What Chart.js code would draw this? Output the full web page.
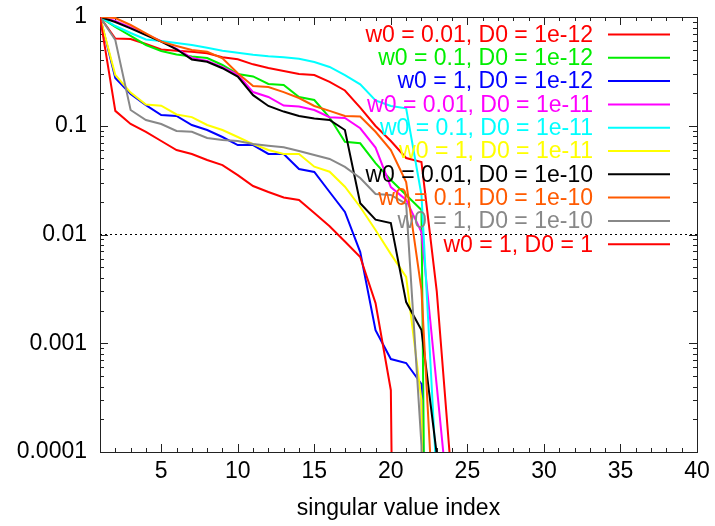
<!DOCTYPE html>
<html>
<head>
<title>Singular values</title>
<script src="https://cdn.jsdelivr.net/npm/chart.js"></script>
<style>
 body { margin: 0; background: #fff; }
 #wrap { width: 715px; height: 526px; }
</style>
</head>
<body>
<div id="wrap"><canvas id="svChart" width="715" height="526"></canvas></div>
<script>
 // singular values, index 1, 2, 3, ...  (1e-16 = numerically zero)
 const sv_w001_d12 = [1, 0.634, 0.628, 0.565, 0.503, 0.490, 0.480, 0.464, 0.426, 0.408, 0.367, 0.340, 0.319, 0.299, 0.293, 0.253, 0.211, 0.147, 0.0995, 0.0724, 0.0505, 0.0464, 0.003, 5e-5, 1e-16];
 const sv_w01_d12  = [1, 0.809, 0.669, 0.553, 0.487, 0.452, 0.433, 0.420, 0.362, 0.299, 0.284, 0.242, 0.237, 0.184, 0.1725, 0.119, 0.0713, 0.069, 0.0454, 0.0317, 0.0231, 0.0168, 1e-16];
 const sv_w1_d12   = [1, 0.275, 0.196, 0.155, 0.1256, 0.123, 0.1016, 0.0914, 0.0788, 0.0665, 0.0665, 0.055, 0.055, 0.040, 0.0376, 0.0246, 0.0161, 0.0069, 0.00132, 0.000716, 0.000658, 0.000422, 1e-16];
 const sv_w001_d11 = [1, 0.92, 0.80, 0.69, 0.60, 0.51, 0.42, 0.395, 0.345, 0.295, 0.204, 0.184, 0.1535, 0.150, 0.1396, 0.120, 0.118, 0.0948, 0.063, 0.0273, 0.0208, 0.0105, 0.000404, 1.5e-5, 1e-16];
 const sv_w01_d11  = [1, 0.826, 0.713, 0.621, 0.601, 0.577, 0.553, 0.522, 0.490, 0.470, 0.450, 0.435, 0.426, 0.414, 0.386, 0.347, 0.292, 0.240, 0.171, 0.152, 0.1446, 0.0231, 5.4e-5, 1e-16];
 const sv_w1_d11   = [1, 0.293, 0.202, 0.157, 0.153, 0.127, 0.120, 0.1016, 0.0914, 0.0788, 0.0679, 0.0598, 0.055, 0.055, 0.042, 0.0378, 0.0275, 0.0179, 0.0110, 0.0066, 0.00407, 0.0003, 1e-16];
 const sv_w001_d10 = [1, 0.90, 0.787, 0.683, 0.593, 0.505, 0.407, 0.388, 0.338, 0.283, 0.191, 0.152, 0.135, 0.123, 0.1167, 0.113, 0.0914, 0.0194, 0.0137, 0.01276, 0.00239, 0.00132, 9.5e-5, 1e-16];
 const sv_w01_d10  = [1, 0.979, 0.844, 0.708, 0.593, 0.541, 0.497, 0.480, 0.417, 0.304, 0.232, 0.227, 0.204, 0.180, 0.152, 0.137, 0.123, 0.1216, 0.0881, 0.0598, 0.0304, 0.00309, 7e-6, 1e-16];
 const sv_w1_d10   = [1, 0.614, 0.1396, 0.113, 0.1038, 0.0895, 0.0881, 0.0771, 0.074, 0.0724, 0.0679, 0.0656, 0.0634, 0.0586, 0.0538, 0.0495, 0.0418, 0.0331, 0.0236, 0.0231, 0.0191, 0.000116, 1e-16];
 const sv_w1_d1    = [1, 0.137, 0.104, 0.0877, 0.0724, 0.0598, 0.055, 0.0484, 0.0435, 0.0352, 0.0279, 0.0246, 0.0219, 0.0208, 0.0158, 0.0119, 0.00863, 0.00621, 0.00234, 0.00037, 1e-16];

 const seriesNames = ['w0 = 0.01, D0 = 1e-12', 'w0 = 0.1, D0 = 1e-12', 'w0 = 1, D0 = 1e-12',
   'w0 = 0.01, D0 = 1e-11', 'w0 = 0.1, D0 = 1e-11', 'w0 = 1, D0 = 1e-11',
   'w0 = 0.01, D0 = 1e-10', 'w0 = 0.1, D0 = 1e-10', 'w0 = 1, D0 = 1e-10', 'w0 = 1, D0 = 1'];
 const seriesValues = [sv_w001_d12, sv_w01_d12, sv_w1_d12, sv_w001_d11, sv_w01_d11, sv_w1_d11,
   sv_w001_d10, sv_w01_d10, sv_w1_d10, sv_w1_d1];
 const seriesColors = ['#ff0000', '#00ee00', '#0000ff', '#ff00ff', '#00ffff', '#ffff00',
   '#000000', '#ff5a00', '#888888', '#ff0000'];

 const xTicks = [5, 10, 15, 20, 25, 30, 35, 40];
 const yTicks = [1, 0.1, 0.01, 0.001, 0.0001];
 const yTickLabels = ['1', '0.1', '0.01', '0.001', '0.0001'];
 const refLevel = 0.01;

 Chart.defaults.font.family = '"Liberation Sans", Arial, sans-serif';
 Chart.defaults.font.size = 23;
 Chart.defaults.color = '#000';

 // gnuplot style frame with inward ticks on all four sides
 const frameTicks = {
  id: 'frameTicks',
  beforeDatasetsDraw(chart) {
   const {ctx, chartArea: a, scales: {x, y}} = chart;
   ctx.save();
   ctx.strokeStyle = '#222';
   ctx.lineWidth = 1;
   ctx.beginPath();
   for (let v = 1; v <= 40; v++) {
    const px = Math.round(x.getPixelForValue(v)) + 0.5;
    const len = v % 5 === 0 ? 8 : 4;
    ctx.moveTo(px, a.bottom); ctx.lineTo(px, a.bottom - len);
    ctx.moveTo(px, a.top); ctx.lineTo(px, a.top + len);
   }
   for (let e = -4; e <= 0; e++) {
    for (let k = 1; k <= 9; k++) {
     const v = k * Math.pow(10, e);
     if (v > 1) break;
     const py = Math.round(y.getPixelForValue(v)) + 0.5;
     const len = k === 1 ? 8 : 4;
     ctx.moveTo(a.left, py); ctx.lineTo(a.left + len, py);
     ctx.moveTo(a.right, py); ctx.lineTo(a.right - len, py);
    }
   }
   ctx.stroke();
   ctx.strokeRect(Math.round(a.left) + 0.5, Math.round(a.top) + 0.5,
    Math.round(a.right - a.left), Math.round(a.bottom - a.top));
   ctx.restore();
  }
 };

 // key in the top right corner: coloured text, then a line sample
 const keyBox = {
  id: 'keyBox',
  afterDatasetsDraw(chart) {
   const {ctx, chartArea: a} = chart;
   ctx.save();
   ctx.font = '23px "Liberation Sans", Arial, sans-serif';
   ctx.textAlign = 'right';
   ctx.textBaseline = 'middle';
   seriesNames.forEach((name, i) => {
    const yy = a.top + 17.5 + i * 23.3;
    ctx.fillStyle = seriesColors[i];
    ctx.fillText(name, a.right - 104, yy + 1);
    ctx.strokeStyle = seriesColors[i];
    ctx.lineWidth = 2;
    ctx.beginPath();
    ctx.moveTo(a.right - 89, yy);
    ctx.lineTo(a.right - 27, yy);
    ctx.stroke();
   });
   ctx.restore();
  }
 };

 const datasets = seriesValues.map((vals, k) => ({
  label: seriesNames[k],
  data: vals.map((v, i) => ({x: i + 1, y: v})),
  borderColor: seriesColors[k],
  borderWidth: 2,
  pointRadius: 0,
  tension: 0,
  fill: false,
  order: seriesValues.length - k
 }));
 datasets.push({
  label: 'ref',
  data: [{x: 1, y: refLevel}, {x: 40, y: refLevel}],
  borderColor: '#000',
  borderWidth: 1,
  borderDash: [2, 3],
  pointRadius: 0,
  order: 99
 });

 new Chart(document.getElementById('svChart'), {
  type: 'line',
  data: {datasets: datasets},
  options: {
   responsive: false,
   animation: false,
   events: [],
   layout: {padding: {top: 17, right: 18, left: 0, bottom: 0}},
   plugins: {legend: {display: false}, tooltip: {enabled: false}},
   scales: {
    x: {
     type: 'linear', min: 1, max: 40,
     grid: {display: false, drawTicks: false},
     border: {display: false},
     ticks: {padding: 6, maxRotation: 0},
     afterBuildTicks: s => { s.ticks = xTicks.map(v => ({value: v})); },
     afterFit: s => { s.height = 74; s.paddingLeft = 0; s.paddingRight = 0; },
     title: {display: true, text: 'singular value index', padding: {top: 0, bottom: 4}}
    },
    y: {
     type: 'logarithmic', min: 1e-4, max: 1,
     grid: {display: false, drawTicks: false},
     border: {display: false},
     ticks: {padding: 13, callback: (v, i) => yTickLabels[i]},
     afterBuildTicks: s => { s.ticks = yTicks.map(v => ({value: v})); },
     afterFit: s => { s.width = 100; s.paddingTop = 0; s.paddingBottom = 0; }
    }
   }
  },
  plugins: [frameTicks, keyBox]
 });
</script>
</body>
</html>
